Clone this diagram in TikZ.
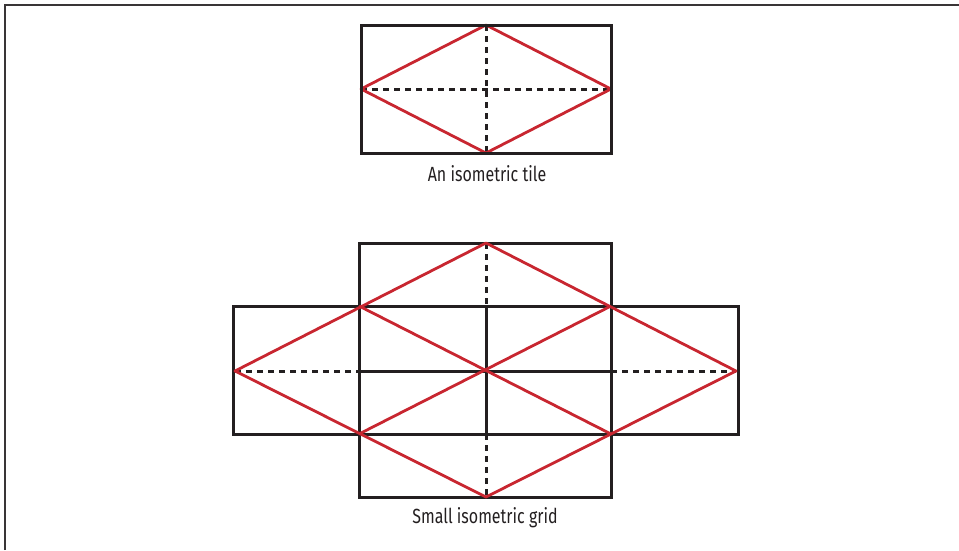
\documentclass[tikz,border=0pt]{standalone}
\usepackage{fontspec}
\setmainfont{Fira Sans}[FakeStretch=0.78]
\definecolor{isored}{RGB}{200,38,48}
\definecolor{isoblk}{RGB}{35,31,32}
\begin{document}
\begin{tikzpicture}[x=1pt,y=-1pt,
  frame/.style={draw=isoblk!90,line width=2.2pt},
  box/.style={draw=isoblk,line width=3pt},
  solidln/.style={draw=isoblk,line width=3pt},
  dashln/.style={draw=isoblk,line width=3pt,dash pattern=on 6pt off 5pt},
  redln/.style={draw=isored,line width=2.8pt,line join=round},
  caption/.style={font=\fontsize{20.5}{24}\selectfont,text=isoblk,inner sep=0pt}]
\useasboundingbox (0,0) rectangle (959,550);
% frame
\draw[frame] (5,550) -- (5,5) -- (959,5);
% ---- single tile ----
\coordinate (tT) at (486,25);
\coordinate (tB) at (486,153);
\coordinate (tL) at (361,89);
\coordinate (tR) at (611,89);
\draw[dashln] (tT) -- (tB);
\draw[dashln] (tL) -- (tR);
\draw[redln] (tL) -- (tT) -- (tR) -- (tB) -- cycle;
\draw[box] (361,25) rectangle (611,153);
\node[caption] (cap1) at (487,174) {An isometric tile};
% ---- small grid ----
\coordinate (gT) at (486,243);
\coordinate (gB) at (486,497);
\coordinate (gL) at (235,371);
\coordinate (gR) at (736,371);
\coordinate (gC) at (486,371);
\coordinate (pUL) at (359,306);
\coordinate (pUR) at (611,306);
\coordinate (pLL) at (359,434);
\coordinate (pLR) at (611,434);
\draw[dashln] (gT) -- (486,306);
\draw[dashln] (486,434) -- (gB);
\draw[dashln] (gL) -- (359,371);
\draw[dashln] (611,371) -- (gR);
\draw[solidln] (359,371) -- (611,371);
\draw[solidln] (486,306) -- (486,434);
\draw[box] (359,243) rectangle (611,306);
\draw[box] (233,306) rectangle (738,434);
\draw[box] (359,434) rectangle (611,497);
\draw[solidln] (pUL) -- (pLL);
\draw[solidln] (pUR) -- (pLR);
\draw[redln] (gL) -- (gT) -- (gR) -- (gB) -- cycle;
\draw[redln] (pUL) -- (pLR);
\draw[redln] (pUR) -- (pLL);
\node[caption] (cap2) at (485,518) {Small isometric grid};
\end{tikzpicture}
\end{document}
